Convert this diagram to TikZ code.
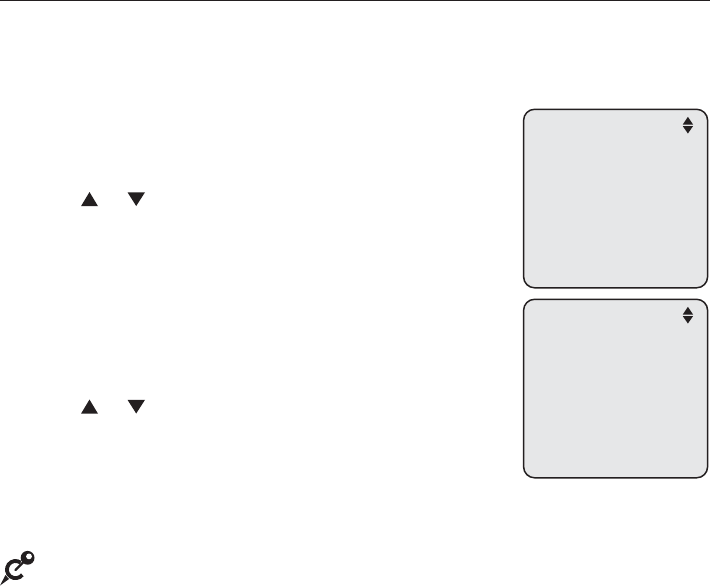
\documentclass[tikz,border=0pt]{standalone}
\definecolor{ink}{HTML}{231F20}
\definecolor{screen}{HTML}{E6E7E8}
\tikzset{
  screenbox/.style={draw=ink,fill=screen,line width=1.5pt,rounded corners=11pt},
  tri/.style={fill=ink,draw=none},
}
\begin{document}
\begin{tikzpicture}[x=1pt,y=-1pt]
\useasboundingbox (0,0) rectangle (710,586);
\fill[white] (0,0) rectangle (710,586);
\draw[ink,line width=1.3pt] (0,0.7) -- (710,0.7);
% screens
\draw[screenbox] (523.6,109.3) rectangle (707.6,287.8);
\draw[screenbox] (523.6,299.3) rectangle (707.6,477.8);
% scroll arrows in screens
\fill[tri] (682.8,124.5) -- (687.9,116.8) -- (693,124.5) -- cycle;
\fill[tri] (682.8,126.2) -- (687.9,133.5) -- (693,126.2) -- cycle;
\fill[tri] (682.8,314.5) -- (687.9,306.8) -- (693,314.5) -- cycle;
\fill[tri] (682.8,316.2) -- (687.9,323.5) -- (693,316.2) -- cycle;
% text arrows
\fill[tri] (81,206.2) -- (89.5,192) -- (98,206.2) -- cycle;
\fill[tri] (127.5,192.3) -- (136.2,206) -- (145,192.3) -- cycle;
\fill[tri] (81,413.7) -- (89.5,399.5) -- (98,413.7) -- cycle;
\fill[tri] (127.5,399.8) -- (136.2,413.5) -- (145,399.8) -- cycle;
% pin icon
\draw[ink,line width=3.8pt] (20.6,562.6) arc[start angle=-54,end angle=-322,radius=8.6];
\draw[ink,line width=2.2pt,line cap=round] (15.5,570) -- (24,561.5);
\fill[ink] (27.6,557.8) circle[radius=6.9];
\fill[white] (29,556.4) circle[radius=2.9];
\fill[ink] (5.5,575) -- (9,579) -- (0,585.5) -- cycle;
\end{tikzpicture}
\end{document}
